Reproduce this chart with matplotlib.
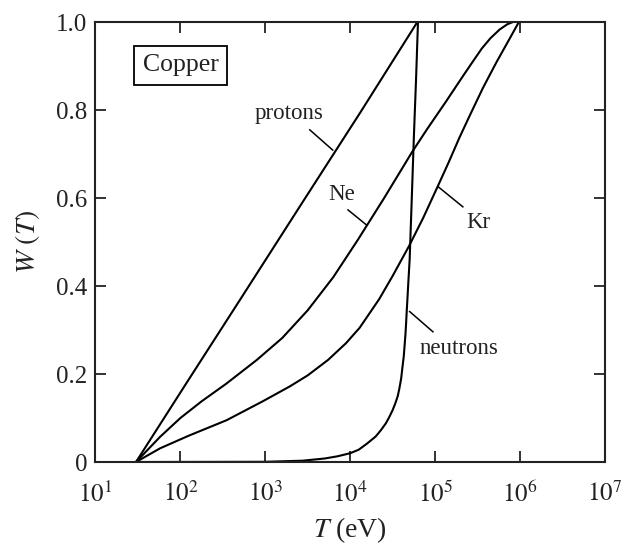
import matplotlib
matplotlib.use("Agg")
import matplotlib.pyplot as plt
from matplotlib.ticker import FixedLocator, FixedFormatter

plt.rcParams['font.family'] = ['Liberation Serif', 'DejaVu Serif']
plt.rcParams['mathtext.fontset'] = 'stix'

# valores (T en eV, W adimensional)
protons_T = [30, 123, 501, 2820, 13200, 61700]
protons_W = [0, 0.185, 0.368, 0.594, 0.795, 1.0]

ne_T = [30, 57.5, 100, 178, 347, 794, 1585, 3162, 6310, 12300, 25100, 53700,
        79400, 135000, 214000, 282000, 355000, 447000, 575000, 708000, 824000]
ne_W = [0, 0.057, 0.1, 0.138, 0.178, 0.232, 0.282, 0.345, 0.42, 0.505, 0.6, 0.705,
        0.755, 0.82, 0.878, 0.912, 0.94, 0.963, 0.983, 0.995, 1.0]

kr_T = [30, 57.5, 126, 350, 933, 1950, 3162, 5480, 8910, 12900, 21900, 31600, 49000,
        72400, 107000, 145000, 194000, 255000, 365000, 525000, 753000, 968000]
kr_W = [0, 0.031, 0.06, 0.095, 0.138, 0.172, 0.197, 0.232, 0.27, 0.305, 0.37, 0.423, 0.49,
        0.555, 0.626, 0.682, 0.738, 0.787, 0.85, 0.908, 0.962, 1.0]

neutrons_T = [30, 1000, 2750, 5010, 7080, 10000, 12600, 15800, 19950, 22900, 26300,
              28800, 31600, 33900, 36300, 38000, 39800, 41200, 42700, 43700, 44700,
              45500, 46200, 47000, 48400, 50100, 53100, 56200, 59600, 62800]
neutrons_W = [0, 0.0005, 0.003, 0.008, 0.013, 0.02, 0.028, 0.042, 0.058, 0.072, 0.088,
              0.102, 0.118, 0.133, 0.15, 0.168, 0.19, 0.215, 0.24, 0.265, 0.29,
              0.315, 0.34, 0.365, 0.41, 0.46, 0.60, 0.74, 0.87, 1.0]

x_ticks = [1e1, 1e2, 1e3, 1e4, 1e5, 1e6, 1e7]
x_labels = [r'$10^{%d}$' % e for e in range(1, 8)]
y_ticks = [0, 0.2, 0.4, 0.6, 0.8, 1.0]
y_labels = ['0', '0.2', '0.4', '0.6', '0.8', '1.0']

fig = plt.figure(figsize=(6.24, 5.51), dpi=100)
ax = fig.add_axes([0.153, 0.1615, 0.8165, 0.7985])

for T, W in [(protons_T, protons_W), (ne_T, ne_W), (kr_T, kr_W), (neutrons_T, neutrons_W)]:
    ax.plot(T, W, color='black', lw=1.5, solid_joinstyle='round')

ax.set_xscale('log')
ax.set_xlim(1e1, 1e7)
ax.set_ylim(0, 1.0)
ax.xaxis.set_major_locator(FixedLocator(x_ticks))
ax.xaxis.set_major_formatter(FixedFormatter(x_labels))
ax.xaxis.set_minor_locator(FixedLocator([]))
ax.yaxis.set_major_locator(FixedLocator(y_ticks))
ax.yaxis.set_major_formatter(FixedFormatter(y_labels))
ax.tick_params(which='both', direction='in', top=True, right=True,
               length=8, width=1.3, labelsize=18, color='#222222', labelcolor='#222222')
ax.tick_params(axis='x', pad=14)
ax.tick_params(axis='y', pad=6)
for s in ax.spines.values():
    s.set_linewidth(1.5)
    s.set_color('#222222')

ax.set_xlabel(r'$T$ (eV)', fontsize=20, color='#222222', labelpad=6)
ax.set_ylabel(r'$W\ (T)$', fontsize=20, color='#222222', labelpad=10)

# etiquetas con lineas guia
etiquetas = [
    ('protons', 1890, 0.793, (3340, 6220), (0.755, 0.709)),
    ('Ne', 7830, 0.607, (9420, 15500), (0.573, 0.539)),
    ('Kr', 325000, 0.545, (108000, 212000), (0.626, 0.58)),
    ('neutrons', 189000, 0.259, (50100, 94200), (0.342, 0.296)),
]
for txt, tx, ty, lx, ly in etiquetas:
    ax.text(tx, ty, txt, fontsize=16.5, ha='center', va='center', color='#222222')
    ax.plot(lx, ly, color='black', lw=1.1)

ax.text(101, 0.902, 'Copper', fontsize=18.5, ha='center', va='center', color='#222222',
        bbox=dict(boxstyle='square,pad=0.33', fc='white', ec='black', lw=1.3))

fig.savefig('out.png', dpi=100)
